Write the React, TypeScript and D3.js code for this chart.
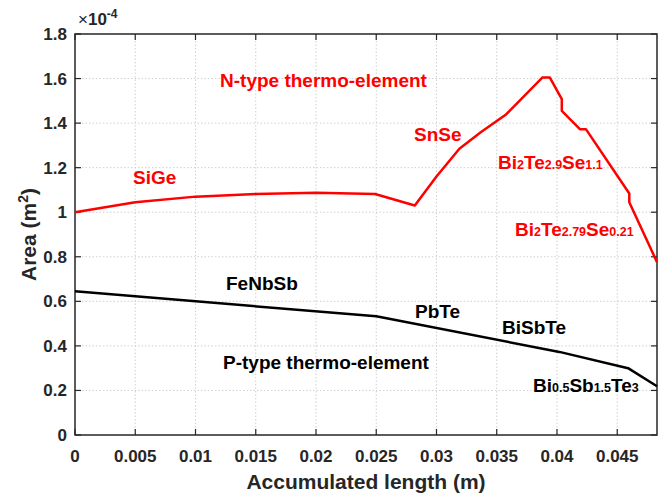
import React from 'react';
import * as d3 from 'd3';

// N-type leg (red) and P-type leg (black): accumulated length (m) vs area (x1e-4 m^2)
const nLength = [0, 0.005, 0.01, 0.015, 0.02, 0.0249, 0.0282, 0.0300, 0.0319, 0.0337, 0.0358, 0.0388, 0.0394, 0.0404, 0.0404, 0.0419, 0.0424, 0.0460, 0.0460, 0.0483];
const nArea = [1.0, 1.045, 1.07, 1.082, 1.087, 1.082, 1.03, 1.16, 1.285, 1.36, 1.44, 1.605, 1.605, 1.508, 1.455, 1.373, 1.373, 1.084, 1.045, 0.776];
const pLength = [0, 0.025, 0.0402, 0.0459, 0.0483];
const pArea = [0.645, 0.533, 0.373, 0.30, 0.219];

const xTicks = [0, 0.005, 0.01, 0.015, 0.02, 0.025, 0.03, 0.035, 0.04, 0.045];
const yTicks = [0, 0.2, 0.4, 0.6, 0.8, 1, 1.2, 1.4, 1.6, 1.8];

// [main, sub, main, sub, ...] pieces of each label
const nLabels: [string[], number, number][] = [
  [['N-type thermo-element'], 220, 87],
  [['SiGe'], 133, 184],
  [['SnSe'], 414, 141],
  [['Bi', '2', 'Te', '2.9', 'Se', '1.1'], 498, 169],
  [['Bi', '2', 'Te', '2.79', 'Se', '0.21'], 515, 236],
];
const pLabels: [string[], number, number][] = [
  [['FeNbSb'], 226, 290],
  [['PbTe'], 415, 318],
  [['BiSbTe'], 502, 334],
  [['P-type thermo-element'], 223, 369],
  [['Bi', '0.5', 'Sb', '1.5', 'Te', '3'], 533, 392],
];

const W = 664, H = 496;
const m = { left: 75, right: 7, top: 34, bottom: 61 };
const font = '"Liberation Sans", Arial, sans-serif';

export default function App() {
  const x = d3.scaleLinear().domain([0, 0.0483]).range([m.left, W - m.right]);
  const y = d3.scaleLinear().domain([0, 1.8]).range([H - m.bottom, m.top]);
  const line = d3.line<[number, number]>().x(d => x(d[0])).y(d => y(d[1]));
  const nPath = line(nLength.map((v, i) => [v, nArea[i]]) as [number, number][]);
  const pPath = line(pLength.map((v, i) => [v, pArea[i]]) as [number, number][]);
  const x0 = m.left, x1 = W - m.right, y0 = m.top, y1 = H - m.bottom;

  const label = (parts: string[], lx: number, ly: number, fill: string, k: number) => (
    <text key={k} x={lx} y={ly} fill={fill} fontFamily={font} fontWeight="bold" fontSize={19}>
      {parts.map((p, i) => (
        <tspan key={i} fontSize={i % 2 ? 12.5 : 19}>{p}</tspan>
      ))}
    </text>
  );

  return (
    <svg width={W} height={H} style={{ position: 'absolute', left: 0, top: 0, background: '#fff' }}>
      {/* grid */}
      {xTicks.slice(1).map(t => (
        <line key={'gx' + t} x1={x(t)} x2={x(t)} y1={y0} y2={y1} stroke="#d0d0d0" strokeDasharray="1.5,2" />
      ))}
      {yTicks.slice(1, -1).map(t => (
        <line key={'gy' + t} x1={x0} x2={x1} y1={y(t)} y2={y(t)} stroke="#d0d0d0" strokeDasharray="1.5,2" />
      ))}
      {/* ticks */}
      {xTicks.map(t => (
        <g key={'tx' + t} stroke="#262626" strokeWidth={1.2}>
          <line x1={x(t)} x2={x(t)} y1={y1} y2={y1 - 6} />
          <line x1={x(t)} x2={x(t)} y1={y0} y2={y0 + 6} />
        </g>
      ))}
      {yTicks.map(t => (
        <g key={'ty' + t} stroke="#262626" strokeWidth={1.2}>
          <line x1={x0} x2={x0 + 6} y1={y(t)} y2={y(t)} />
          <line x1={x1} x2={x1 - 6} y1={y(t)} y2={y(t)} />
        </g>
      ))}
      <rect x={x0} y={y0} width={x1 - x0} height={y1 - y0} fill="none" stroke="#262626" strokeWidth={1.5} />
      {/* tick labels */}
      {xTicks.map(t => (
        <text key={'lx' + t} x={x(t)} y={y1 + 27} textAnchor="middle" fontFamily={font} fontWeight="bold" fontSize={17} fill="#262626">
          {String(t)}
        </text>
      ))}
      {yTicks.map(t => (
        <text key={'ly' + t} x={x0 - 8} y={y(t) + 6} textAnchor="end" fontFamily={font} fontWeight="bold" fontSize={17} fill="#262626">
          {String(t)}
        </text>
      ))}
      <text x={x0 + 3} y={y0 - 9} fontFamily={font} fontSize={17} fill="#262626">
        <tspan>×</tspan><tspan fontWeight="bold">10</tspan>
        <tspan fontWeight="bold" fontSize={12} dy={-7}>-4</tspan>
      </text>
      {/* axis titles */}
      <text x={(x0 + x1) / 2} y={489} textAnchor="middle" fontFamily={font} fontWeight="bold" fontSize={21} fill="#262626">
        Accumulated length (m)
      </text>
      <text transform={`translate(36,${(y0 + y1) / 2}) rotate(-90)`} textAnchor="middle" fontFamily={font} fontWeight="bold" fontSize={21} fill="#262626">
        Area (m<tspan fontSize={14} dy={-8}>2</tspan><tspan dy={8}>)</tspan>
      </text>
      {/* curves */}
      <path d={nPath ?? ''} fill="none" stroke="#ff0000" strokeWidth={2.5} strokeLinejoin="round" />
      <path d={pPath ?? ''} fill="none" stroke="#000" strokeWidth={2.5} strokeLinejoin="round" />
      {nLabels.map(([p, lx, ly], i) => label(p, lx, ly, '#ff0000', i))}
      {pLabels.map(([p, lx, ly], i) => label(p, lx, ly, '#000', 100 + i))}
    </svg>
  );
}
